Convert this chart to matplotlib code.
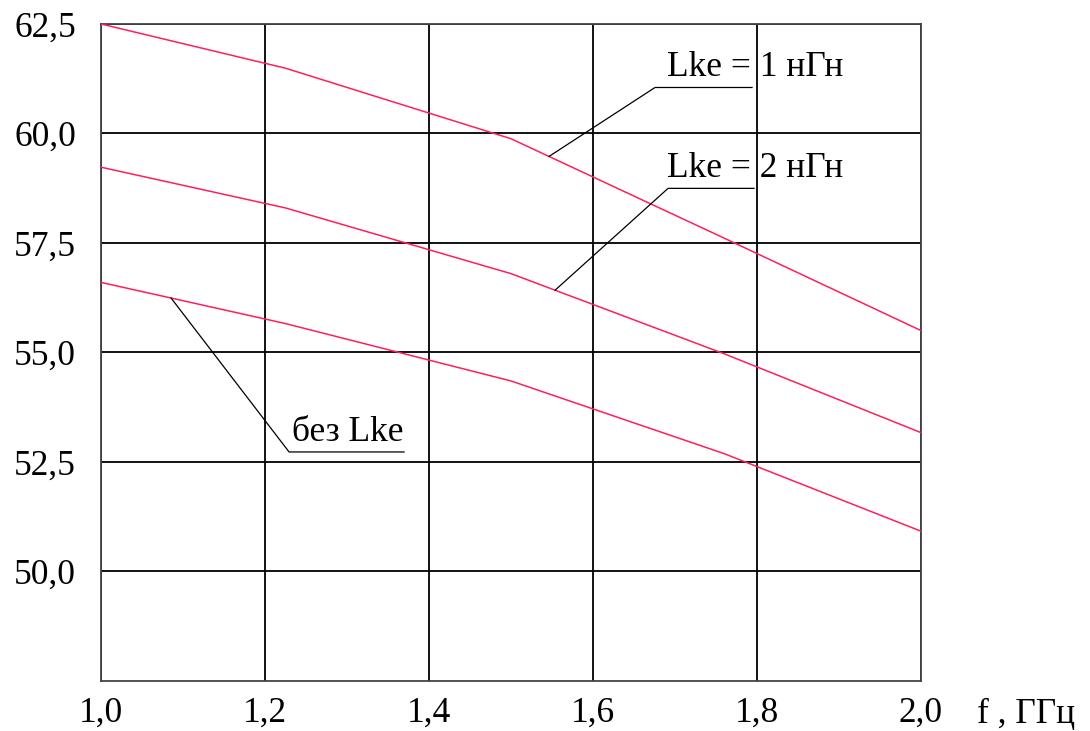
import numpy as np
import matplotlib.pyplot as plt

# frequency points, GHz
freq = [1.0, 1.225, 1.5, 1.76, 2.0]

# output level for each case
lke_1nH = [62.5, 61.49, 59.88, 57.61, 55.50]
lke_2nH = [59.23, 58.30, 56.80, 54.97, 53.17]
no_lke = [56.60, 55.66, 54.35, 52.69, 50.92]

x_ticks = [1.0, 1.2, 1.4, 1.6, 1.8, 2.0]
y_ticks = [50.0, 52.5, 55.0, 57.5, 60.0, 62.5]
x_tick_labels = ["1,0", "1,2", "1,4", "1,6", "1,8", "2,0"]
y_tick_labels = ["50,0", "52,5", "55,0", "57,5", "60,0", "62,5"]

plt.rcParams['font.family'] = ['Liberation Serif', 'DejaVu Serif']
fs = 25.5

fig = plt.figure(figsize=(10.9, 7.31), dpi=100)
ax = fig.add_axes([0.0927, 0.0684, 0.7523, 0.8988])

line_color = '#ff1f5a'
for series in (lke_1nH, lke_2nH, no_lke):
    ax.plot(freq, series, color=line_color, lw=1.1, zorder=3)

ax.set_xlim(1.0, 2.0)
ax.set_ylim(47.5, 62.5)
ax.set_xticks(x_ticks)
ax.set_xticklabels(x_tick_labels)
ax.set_yticks(y_ticks)
ax.set_yticklabels(y_tick_labels)
ax.tick_params(axis='both', length=0, labelsize=fs)
ax.tick_params(axis='x', pad=11)
ax.tick_params(axis='y', pad=18)
ax.grid(True, color='black', lw=1.3, zorder=1)
for sp in ax.spines.values():
    sp.set_color('#444444')
    sp.set_linewidth(1.3)

ax.text(2.068, -0.064, "f , ГГц", transform=ax.get_xaxis_transform(),
        fontsize=fs, ha='left', va='baseline', clip_on=False)

# callouts: text, underline and leader to the curve
def callout(text, series, tx, ty, ux0, ux1, uy, px):
    ax.text(tx, ty, text, fontsize=fs, ha='left', va='baseline', zorder=4)
    py = np.interp(px, freq, series)
    ax.plot([ux1, ux0, px], [uy, uy, py], color='black', lw=0.9, zorder=4)

callout("Lke = 1 нГн", lke_1nH, 1.690, 61.31, 1.6756, 1.7939, 61.05, 1.5463)
callout("Lke = 2 нГн", lke_2nH, 1.690, 59.00, 1.6915, 1.7963, 58.747, 1.5537)
callout("без Lke", no_lke, 1.233, 52.98, 1.2293, 1.3695, 52.729, 1.0854)

plt.savefig("out.png", dpi=100)
